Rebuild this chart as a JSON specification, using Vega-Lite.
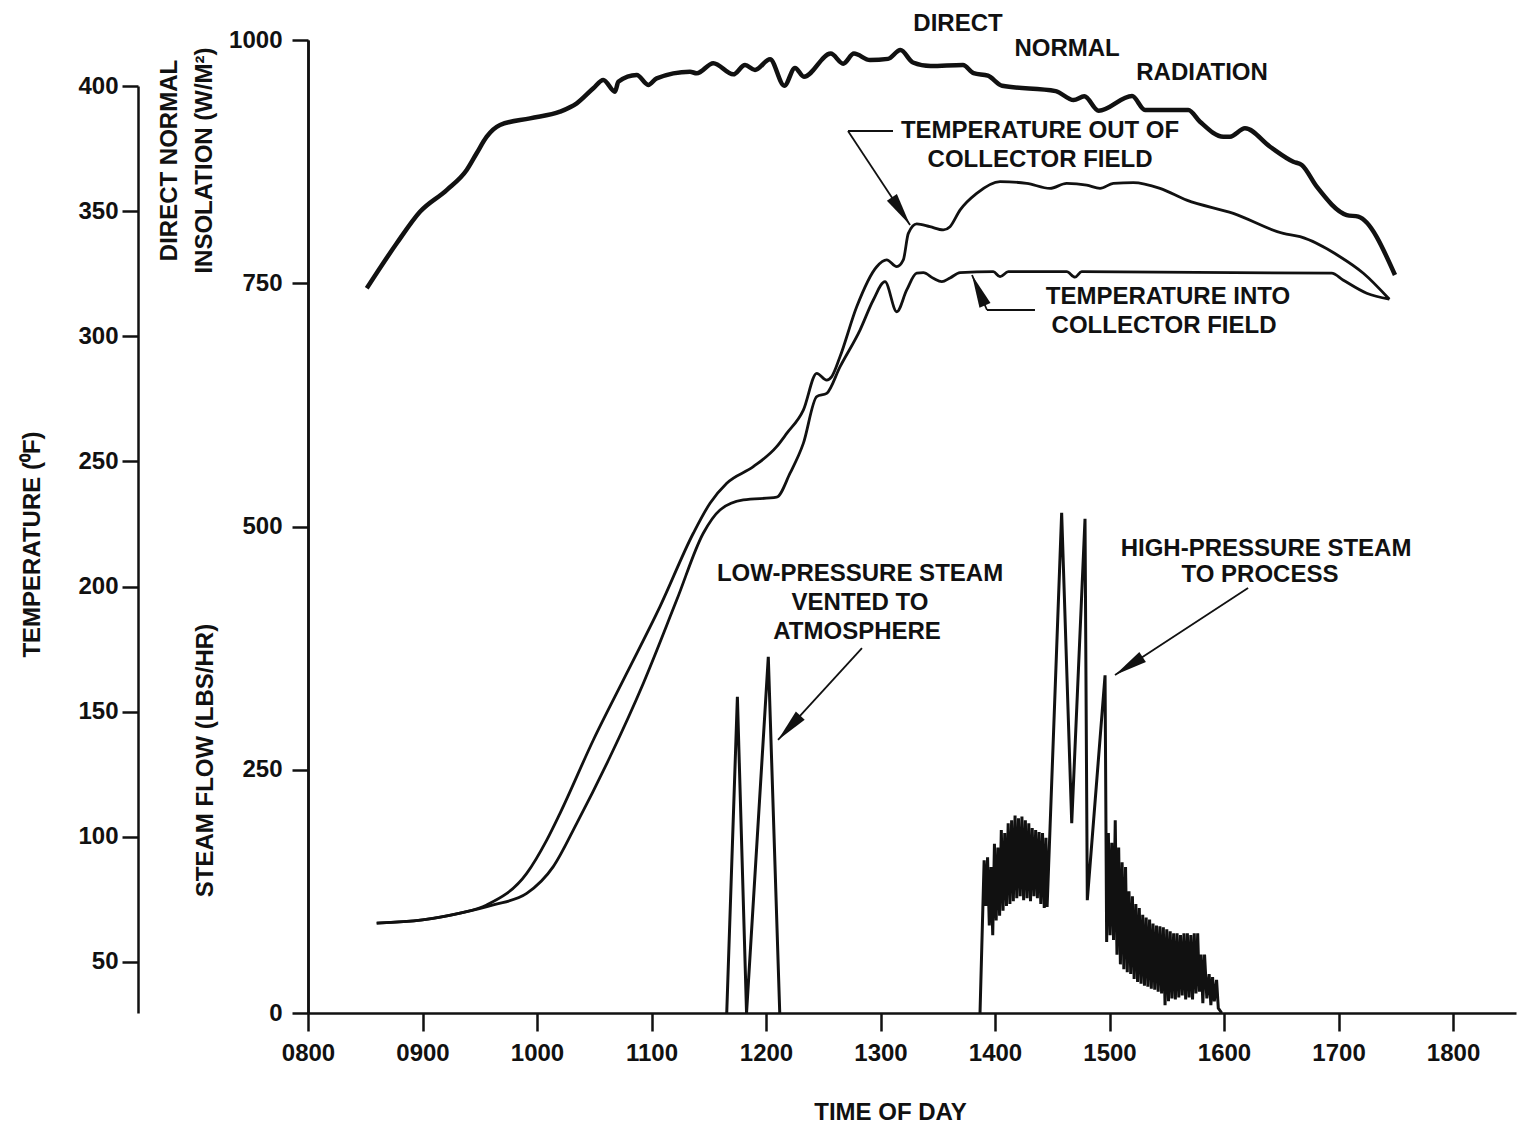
{
  "$schema": "https://vega.github.io/schema/vega-lite/v6.json",
  "width": 1208,
  "height": 973,
  "autosize": "none",
  "padding": {"left": 308, "top": 40, "right": 1, "bottom": 123},
  "background": "white",
  "config": {
    "view": {"stroke": null},
    "font": "Liberation Sans",
    "axis": {
      "grid": false,
      "domainColor": "#111111",
      "domainWidth": 2.5,
      "tickColor": "#111111",
      "tickWidth": 2.5,
      "labelFont": "Liberation Sans",
      "labelFontSize": 24,
      "labelFontWeight": "bold",
      "labelColor": "#111111",
      "titleFont": "Liberation Sans",
      "titleFontSize": 24,
      "titleFontWeight": "bold",
      "titleColor": "#111111"
    }
  },
  "datasets": {
    "insolation": [
      {"hour": 8.513, "insolation": 744.8}, {"hour": 8.775, "insolation": 791.1}, {"hour": 8.978, "insolation": 823.5},
      {"hour": 9.211, "insolation": 845.8}, {"hour": 9.386, "insolation": 866.4}, {"hour": 9.473, "insolation": 883.6},
      {"hour": 9.561, "insolation": 900.6}, {"hour": 9.677, "insolation": 912.6}, {"hour": 9.939, "insolation": 919.5},
      {"hour": 10.201, "insolation": 926.3}, {"hour": 10.347, "insolation": 934.9}, {"hour": 10.492, "insolation": 950.4},
      {"hour": 10.579, "insolation": 958.9}, {"hour": 10.681, "insolation": 946.9}, {"hour": 10.71, "insolation": 957.1},
      {"hour": 10.871, "insolation": 964.0}, {"hour": 10.972, "insolation": 953.8}, {"hour": 11.045, "insolation": 960.6},
      {"hour": 11.336, "insolation": 967.4}, {"hour": 11.395, "insolation": 965.8}, {"hour": 11.54, "insolation": 976.1},
      {"hour": 11.714, "insolation": 964.7}, {"hour": 11.817, "insolation": 974.3}, {"hour": 11.904, "insolation": 969.2},
      {"hour": 12.035, "insolation": 980.2}, {"hour": 12.16, "insolation": 953.0}, {"hour": 12.253, "insolation": 971.3},
      {"hour": 12.331, "insolation": 962.2}, {"hour": 12.565, "insolation": 986.0}, {"hour": 12.674, "insolation": 975.7},
      {"hour": 12.768, "insolation": 986.0}, {"hour": 12.908, "insolation": 979.4}, {"hour": 13.065, "insolation": 980.6},
      {"hour": 13.174, "insolation": 989.7}, {"hour": 13.283, "insolation": 976.9}, {"hour": 13.438, "insolation": 973.2},
      {"hour": 13.72, "insolation": 974.3}, {"hour": 13.813, "insolation": 965.9}, {"hour": 13.938, "insolation": 963.3},
      {"hour": 14.062, "insolation": 953.0}, {"hour": 14.53, "insolation": 947.5}, {"hour": 14.686, "insolation": 938.3},
      {"hour": 14.78, "insolation": 942.1}, {"hour": 14.905, "insolation": 927.3}, {"hour": 15.197, "insolation": 942.4},
      {"hour": 15.31, "insolation": 928.1}, {"hour": 15.688, "insolation": 928.1}, {"hour": 15.79, "insolation": 916.0},
      {"hour": 15.994, "insolation": 900.6}, {"hour": 16.052, "insolation": 900.6}, {"hour": 16.183, "insolation": 909.2},
      {"hour": 16.402, "insolation": 890.3}, {"hour": 16.605, "insolation": 874.9}, {"hour": 16.679, "insolation": 871.5},
      {"hour": 16.81, "insolation": 849.2}, {"hour": 17.072, "insolation": 820.1}, {"hour": 17.173, "insolation": 818.4},
      {"hour": 17.493, "insolation": 758.5}
    ],
    "temperature": [
      {"hour": 8.6, "temp": 65.5, "series": "out"}, {"hour": 9.0, "temp": 66.8, "series": "out"},
      {"hour": 9.328, "temp": 69.5, "series": "out"},
      {"hour": 9.561, "temp": 72.8, "series": "out"}, {"hour": 9.91, "temp": 85.4, "series": "out"},
      {"hour": 10.085, "temp": 98.7, "series": "out"}, {"hour": 10.201, "temp": 109.4, "series": "out"},
      {"hour": 10.492, "temp": 138.7, "series": "out"}, {"hour": 10.783, "temp": 165.3, "series": "out"},
      {"hour": 11.074, "temp": 192.0, "series": "out"}, {"hour": 11.365, "temp": 221.3, "series": "out"},
      {"hour": 11.511, "temp": 233.3, "series": "out"}, {"hour": 11.657, "temp": 241.3, "series": "out"},
      {"hour": 11.889, "temp": 247.9, "series": "out"}, {"hour": 12.093, "temp": 255.9, "series": "out"},
      {"hour": 12.181, "temp": 261.2, "series": "out"}, {"hour": 12.326, "temp": 270.5, "series": "out"},
      {"hour": 12.443, "temp": 285.2, "series": "out"}, {"hour": 12.53, "temp": 282.5, "series": "out"},
      {"hour": 12.574, "temp": 283.9, "series": "out"}, {"hour": 12.646, "temp": 291.8, "series": "out"},
      {"hour": 12.792, "temp": 311.8, "series": "out"}, {"hour": 12.967, "temp": 327.8, "series": "out"},
      {"hour": 13.054, "temp": 330.5, "series": "out"}, {"hour": 13.142, "temp": 327.8, "series": "out"},
      {"hour": 13.199, "temp": 330.5, "series": "out"}, {"hour": 13.243, "temp": 341.1, "series": "out"},
      {"hour": 13.316, "temp": 344.9, "series": "out"}, {"hour": 13.432, "temp": 343.8, "series": "out"},
      {"hour": 13.548, "temp": 342.5, "series": "out"}, {"hour": 13.607, "temp": 343.8, "series": "out"},
      {"hour": 13.694, "temp": 350.4, "series": "out"}, {"hour": 13.84, "temp": 357.1, "series": "out"},
      {"hour": 14.044, "temp": 361.8, "series": "out"}, {"hour": 14.277, "temp": 361.1, "series": "out"},
      {"hour": 14.48, "temp": 359.1, "series": "out"}, {"hour": 14.626, "temp": 361.1, "series": "out"},
      {"hour": 14.801, "temp": 360.4, "series": "out"}, {"hour": 14.917, "temp": 359.1, "series": "out"},
      {"hour": 15.033, "temp": 361.1, "series": "out"}, {"hour": 15.208, "temp": 361.4, "series": "out"},
      {"hour": 15.441, "temp": 359.1, "series": "out"}, {"hour": 15.674, "temp": 354.4, "series": "out"},
      {"hour": 16.081, "temp": 349.1, "series": "out"}, {"hour": 16.518, "temp": 341.1, "series": "out"},
      {"hour": 16.664, "temp": 339.8, "series": "out"}, {"hour": 17.013, "temp": 331.8, "series": "out"},
      {"hour": 17.217, "temp": 325.2, "series": "out"}, {"hour": 17.444, "temp": 314.8, "series": "out"},
      {"hour": 8.6, "temp": 65.5, "series": "in"}, {"hour": 9.0, "temp": 66.8, "series": "in"},
      {"hour": 9.328, "temp": 69.5, "series": "in"},
      {"hour": 9.618, "temp": 72.8, "series": "in"}, {"hour": 9.91, "temp": 77.4, "series": "in"},
      {"hour": 10.142, "temp": 88.1, "series": "in"}, {"hour": 10.347, "temp": 105.4, "series": "in"},
      {"hour": 10.638, "temp": 132.0, "series": "in"}, {"hour": 10.928, "temp": 161.3, "series": "in"},
      {"hour": 11.22, "temp": 194.6, "series": "in"}, {"hour": 11.452, "temp": 221.3, "series": "in"},
      {"hour": 11.598, "temp": 230.6, "series": "in"}, {"hour": 11.802, "temp": 234.6, "series": "in"},
      {"hour": 12.093, "temp": 235.7, "series": "in"}, {"hour": 12.21, "temp": 245.3, "series": "in"},
      {"hour": 12.326, "temp": 257.2, "series": "in"}, {"hour": 12.443, "temp": 275.9, "series": "in"},
      {"hour": 12.53, "temp": 277.2, "series": "in"}, {"hour": 12.646, "temp": 287.8, "series": "in"},
      {"hour": 12.821, "temp": 302.5, "series": "in"}, {"hour": 12.937, "temp": 314.5, "series": "in"},
      {"hour": 13.039, "temp": 321.8, "series": "in"}, {"hour": 13.142, "temp": 309.8, "series": "in"},
      {"hour": 13.229, "temp": 318.5, "series": "in"}, {"hour": 13.316, "temp": 325.2, "series": "in"},
      {"hour": 13.374, "temp": 325.4, "series": "in"}, {"hour": 13.461, "temp": 323.2, "series": "in"},
      {"hour": 13.535, "temp": 321.8, "series": "in"}, {"hour": 13.607, "temp": 323.3, "series": "in"},
      {"hour": 13.694, "temp": 325.4, "series": "in"}, {"hour": 13.985, "temp": 325.8, "series": "in"},
      {"hour": 14.044, "temp": 323.8, "series": "in"}, {"hour": 14.116, "temp": 325.8, "series": "in"},
      {"hour": 14.626, "temp": 325.8, "series": "in"}, {"hour": 14.699, "temp": 323.6, "series": "in"},
      {"hour": 14.757, "temp": 325.8, "series": "in"}, {"hour": 16.94, "temp": 325.2, "series": "in"},
      {"hour": 17.039, "temp": 322.5, "series": "in"}, {"hour": 17.246, "temp": 317.2, "series": "in"},
      {"hour": 17.444, "temp": 314.8, "series": "in"}
    ],
    "flow": [
      {"hour": 11.657, "flow": 0, "segment": "low"}, {"hour": 11.75, "flow": 325, "segment": "low"},
      {"hour": 11.83, "flow": 0, "segment": "low"}, {"hour": 12.02, "flow": 366, "segment": "low"},
      {"hour": 12.12, "flow": 0, "segment": "low"},
      {"hour": 13.869, "flow": 0, "segment": "high"}, {"hour": 13.905, "flow": 157, "segment": "high"},
      {"hour": 13.92, "flow": 110, "segment": "high"}, {"hour": 13.935, "flow": 160, "segment": "high"},
      {"hour": 13.95, "flow": 90, "segment": "high"}, {"hour": 13.965, "flow": 150, "segment": "high"},
      {"hour": 13.98, "flow": 80, "segment": "high"}, {"hour": 13.995, "flow": 174, "segment": "high"},
      {"hour": 14.01, "flow": 95, "segment": "high"}, {"hour": 14.025, "flow": 170, "segment": "high"},
      {"hour": 14.04, "flow": 100, "segment": "high"}, {"hour": 14.055, "flow": 188, "segment": "high"},
      {"hour": 14.07, "flow": 105, "segment": "high"}, {"hour": 14.085, "flow": 185, "segment": "high"},
      {"hour": 14.1, "flow": 110, "segment": "high"}, {"hour": 14.115, "flow": 195, "segment": "high"},
      {"hour": 14.13, "flow": 112, "segment": "high"}, {"hour": 14.145, "flow": 198, "segment": "high"},
      {"hour": 14.16, "flow": 115, "segment": "high"}, {"hour": 14.175, "flow": 203, "segment": "high"},
      {"hour": 14.19, "flow": 118, "segment": "high"}, {"hour": 14.205, "flow": 200, "segment": "high"},
      {"hour": 14.22, "flow": 120, "segment": "high"}, {"hour": 14.235, "flow": 202, "segment": "high"},
      {"hour": 14.25, "flow": 116, "segment": "high"}, {"hour": 14.265, "flow": 198, "segment": "high"},
      {"hour": 14.28, "flow": 118, "segment": "high"}, {"hour": 14.295, "flow": 195, "segment": "high"},
      {"hour": 14.31, "flow": 115, "segment": "high"}, {"hour": 14.325, "flow": 190, "segment": "high"},
      {"hour": 14.34, "flow": 120, "segment": "high"}, {"hour": 14.355, "flow": 188, "segment": "high"},
      {"hour": 14.37, "flow": 118, "segment": "high"}, {"hour": 14.385, "flow": 186, "segment": "high"},
      {"hour": 14.4, "flow": 112, "segment": "high"}, {"hour": 14.415, "flow": 185, "segment": "high"},
      {"hour": 14.43, "flow": 108, "segment": "high"}, {"hour": 14.445, "flow": 180, "segment": "high"},
      {"hour": 14.455, "flow": 109, "segment": "high"}, {"hour": 14.582, "flow": 514, "segment": "high"},
      {"hour": 14.67, "flow": 195, "segment": "high"}, {"hour": 14.786, "flow": 508, "segment": "high"},
      {"hour": 14.806, "flow": 116, "segment": "high"}, {"hour": 14.961, "flow": 347, "segment": "high"},
      {"hour": 14.975, "flow": 73, "segment": "high"}, {"hour": 14.99, "flow": 185, "segment": "high"},
      {"hour": 15.005, "flow": 80, "segment": "high"}, {"hour": 15.02, "flow": 175, "segment": "high"},
      {"hour": 15.035, "flow": 75, "segment": "high"}, {"hour": 15.05, "flow": 198, "segment": "high"},
      {"hour": 15.065, "flow": 60, "segment": "high"}, {"hour": 15.08, "flow": 170, "segment": "high"},
      {"hour": 15.095, "flow": 50, "segment": "high"}, {"hour": 15.11, "flow": 155, "segment": "high"},
      {"hour": 15.125, "flow": 45, "segment": "high"}, {"hour": 15.14, "flow": 150, "segment": "high"},
      {"hour": 15.155, "flow": 42, "segment": "high"}, {"hour": 15.17, "flow": 125, "segment": "high"},
      {"hour": 15.185, "flow": 40, "segment": "high"}, {"hour": 15.2, "flow": 120, "segment": "high"},
      {"hour": 15.215, "flow": 35, "segment": "high"}, {"hour": 15.23, "flow": 112, "segment": "high"},
      {"hour": 15.245, "flow": 32, "segment": "high"}, {"hour": 15.26, "flow": 108, "segment": "high"},
      {"hour": 15.275, "flow": 30, "segment": "high"}, {"hour": 15.29, "flow": 101, "segment": "high"},
      {"hour": 15.305, "flow": 28, "segment": "high"}, {"hour": 15.32, "flow": 98, "segment": "high"},
      {"hour": 15.335, "flow": 27, "segment": "high"}, {"hour": 15.35, "flow": 96, "segment": "high"},
      {"hour": 15.365, "flow": 25, "segment": "high"}, {"hour": 15.38, "flow": 92, "segment": "high"},
      {"hour": 15.395, "flow": 24, "segment": "high"}, {"hour": 15.41, "flow": 90, "segment": "high"},
      {"hour": 15.425, "flow": 22, "segment": "high"}, {"hour": 15.44, "flow": 89, "segment": "high"},
      {"hour": 15.455, "flow": 20, "segment": "high"}, {"hour": 15.47, "flow": 88, "segment": "high"},
      {"hour": 15.485, "flow": 8, "segment": "high"}, {"hour": 15.5, "flow": 86, "segment": "high"},
      {"hour": 15.515, "flow": 12, "segment": "high"}, {"hour": 15.53, "flow": 84, "segment": "high"},
      {"hour": 15.545, "flow": 15, "segment": "high"}, {"hour": 15.56, "flow": 82, "segment": "high"},
      {"hour": 15.575, "flow": 14, "segment": "high"}, {"hour": 15.59, "flow": 82, "segment": "high"},
      {"hour": 15.605, "flow": 16, "segment": "high"}, {"hour": 15.62, "flow": 80, "segment": "high"},
      {"hour": 15.635, "flow": 18, "segment": "high"}, {"hour": 15.65, "flow": 82, "segment": "high"},
      {"hour": 15.665, "flow": 14, "segment": "high"}, {"hour": 15.68, "flow": 82, "segment": "high"},
      {"hour": 15.695, "flow": 16, "segment": "high"}, {"hour": 15.71, "flow": 80, "segment": "high"},
      {"hour": 15.725, "flow": 14, "segment": "high"}, {"hour": 15.74, "flow": 82, "segment": "high"},
      {"hour": 15.755, "flow": 20, "segment": "high"}, {"hour": 15.77, "flow": 82, "segment": "high"},
      {"hour": 15.785, "flow": 22, "segment": "high"}, {"hour": 15.8, "flow": 60, "segment": "high"},
      {"hour": 15.815, "flow": 10, "segment": "high"}, {"hour": 15.83, "flow": 60, "segment": "high"},
      {"hour": 15.85, "flow": 15, "segment": "high"}, {"hour": 15.87, "flow": 40, "segment": "high"},
      {"hour": 15.885, "flow": 8, "segment": "high"}, {"hour": 15.9, "flow": 37, "segment": "high"},
      {"hour": 15.915, "flow": 12, "segment": "high"}, {"hour": 15.935, "flow": 34, "segment": "high"},
      {"hour": 15.95, "flow": 5, "segment": "high"}, {"hour": 15.98, "flow": 0, "segment": "high"}
    ],
    "labels": [
      {"hour": 13.677, "value": 1016.4, "text": "DIRECT"},
      {"hour": 14.629, "value": 990.7, "text": "NORMAL"},
      {"hour": 15.808, "value": 966.1, "text": "RADIATION"},
      {"hour": 14.393, "value": 906.5, "text": "TEMPERATURE OUT OF"},
      {"hour": 14.393, "value": 876.7, "text": "COLLECTOR FIELD"},
      {"hour": 15.511, "value": 735.9, "text": "TEMPERATURE INTO"},
      {"hour": 15.476, "value": 706.1, "text": "COLLECTOR FIELD"},
      {"hour": 12.821, "value": 451.2, "text": "LOW-PRESSURE STEAM"},
      {"hour": 12.821, "value": 421.4, "text": "VENTED TO"},
      {"hour": 12.795, "value": 391.6, "text": "ATMOSPHERE"},
      {"hour": 16.367, "value": 476.9, "text": "HIGH-PRESSURE STEAM"},
      {"hour": 16.314, "value": 450.2, "text": "TO PROCESS"}
    ],
    "leaders": [
      {"hour": 12.716, "value": 906.5, "hour2": 13.109, "value2": 906.5},
      {"hour": 12.716, "value": 906.5, "hour2": 13.258, "value2": 809.9},
      {"hour": 13.799, "value": 758.5, "hour2": 13.93, "value2": 722.5},
      {"hour": 13.93, "value": 722.5, "hour2": 14.349, "value2": 722.5},
      {"hour": 12.838, "value": 375.1, "hour2": 12.105, "value2": 280.6},
      {"hour": 16.21, "value": 436.8, "hour2": 15.048, "value2": 347.4}
    ],
    "arrowheads": [
      {"hour": 13.258, "value": 809.9, "heading": 146.6},
      {"hour": 13.799, "value": 758.5, "heading": 336.8},
      {"hour": 12.105, "value": 280.6, "heading": 222.4},
      {"hour": 15.048, "value": 347.4, "heading": 236.8}
    ]
  },
  "encoding": {
    "x": {
      "field": "hour",
      "type": "quantitative",
      "scale": {"domain": [8, 18.55], "nice": false, "zero": false},
      "axis": {
        "orient": "bottom",
        "values": [8, 9, 10, 11, 12, 13, 14, 15, 16, 17, 18],
        "labelExpr": "(datum.value < 10 ? '0' : '') + datum.value + '00'",
        "tickSize": 18,
        "labelPadding": 10,
        "labelFlush": false,
        "title": "TIME OF DAY",
        "titleX": 582,
        "titleY": 99,
        "titleAlign": "center",
        "titleBaseline": "middle"
      }
    }
  },
  "layer": [
    {
      "data": {"name": "temperature"},
      "mark": {"type": "line", "color": "#111111", "strokeWidth": 2.8, "interpolate": "monotone"},
      "encoding": {
        "y": {
          "field": "temp",
          "type": "quantitative",
          "scale": {"domain": [29.62, 400], "range": [973, 46], "nice": false, "zero": false},
          "axis": {
            "orient": "left",
            "offset": 170,
            "values": [50, 100, 150, 200, 250, 300, 350, 400],
            "format": "d",
            "tickSize": 16,
            "labelPadding": 4,
            "title": "TEMPERATURE (⁰F)",
            "titleX": -106,
            "titleY": 504,
            "titleAngle": -90,
            "titleAlign": "center",
            "titleBaseline": "middle"
          }
        },
        "detail": {"field": "series"}
      }
    },
    {
      "data": {"name": "flow"},
      "mark": {"type": "line", "color": "#111111", "strokeWidth": 3},
      "encoding": {
        "y": {
          "field": "flow",
          "type": "quantitative",
          "scale": {"domain": [0, 1000], "nice": false},
          "axis": {
            "orient": "left",
            "values": [0, 250, 500],
            "format": "d",
            "tickSize": 16,
            "labelPadding": 10,
            "title": "STEAM FLOW (LBS/HR)",
            "titleX": -103,
            "titleY": 720,
            "titleAngle": -90,
            "titleAlign": "center",
            "titleBaseline": "middle"
          }
        },
        "detail": {"field": "segment"}
      }
    },
    {
      "data": {"name": "insolation"},
      "mark": {"type": "line", "color": "#111111", "strokeWidth": 4.5, "interpolate": "monotone"},
      "encoding": {
        "y": {
          "field": "insolation",
          "type": "quantitative",
          "scale": {"domain": [0, 1000], "nice": false},
          "axis": {
            "orient": "left",
            "values": [750, 1000],
            "format": "d",
            "tickSize": 16,
            "labelPadding": 10,
            "title": ["DIRECT NORMAL", "INSOLATION (W/M²)"],
            "titleX": -139,
            "titleY": 120,
            "titleAngle": -90,
            "titleAlign": "center",
            "titleBaseline": "middle",
            "titleLineHeight": 35
          }
        }
      }
    },
    {
      "data": {"name": "labels"},
      "mark": {"type": "text", "font": "Liberation Sans", "fontSize": 24, "fontWeight": "bold", "color": "#111111", "align": "center", "baseline": "middle"},
      "encoding": {
        "y": {"field": "value", "type": "quantitative", "scale": {"domain": [0, 1000], "nice": false}, "axis": null},
        "text": {"field": "text"}
      }
    },
    {
      "data": {"name": "leaders"},
      "mark": {"type": "rule", "color": "#111111", "strokeWidth": 1.8},
      "encoding": {
        "x2": {"field": "hour2"},
        "y": {"field": "value", "type": "quantitative", "scale": {"domain": [0, 1000], "nice": false}, "axis": null},
        "y2": {"field": "value2"}
      }
    },
    {
      "data": {"name": "arrowheads"},
      "mark": {"type": "point", "filled": true, "color": "#111111", "opacity": 1, "shape": "M0,0L0.4,2.2L-0.4,2.2Z", "size": 900},
      "encoding": {
        "y": {"field": "value", "type": "quantitative", "scale": {"domain": [0, 1000], "nice": false}, "axis": null},
        "angle": {"field": "heading", "type": "quantitative", "scale": null}
      }
    }
  ],
  "resolve": {"scale": {"y": "independent"}, "axis": {"y": "independent"}}
}
